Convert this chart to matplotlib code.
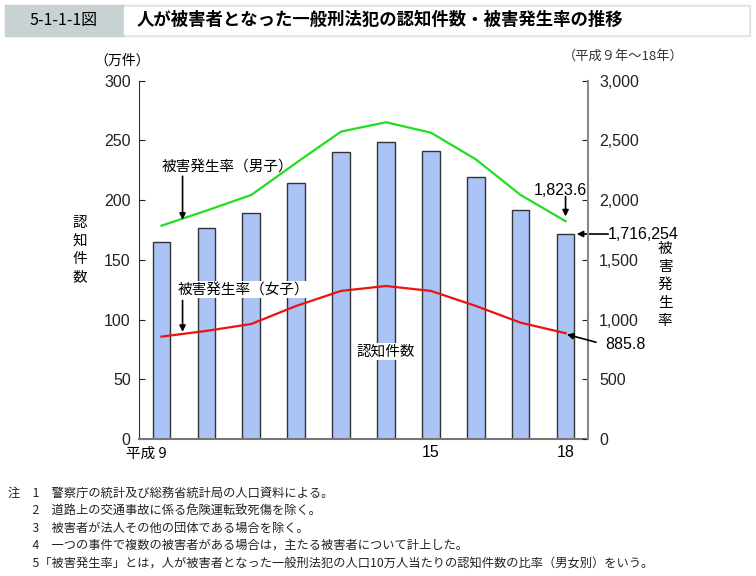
import numpy as np
import matplotlib.pyplot as plt
from matplotlib.patches import Rectangle

plt.rcParams['font.family'] = ['Noto Sans CJK JP', 'DejaVu Sans']
num_font = ['Liberation Sans', 'Noto Sans CJK JP']

# data (平成9年～18年)
years = [9, 10, 11, 12, 13, 14, 15, 16, 17, 18]
tick_labels = {15: '15', 18: '18'}
cases = [165.2, 177.0, 189.0, 214.1, 240.6, 248.5, 241.0, 219.4, 192.0, 171.6254]  # 万件
rate_male = [1786, 1912, 2043, 2312, 2574, 2652, 2565, 2342, 2043, 1823.6]
rate_female = [857, 905, 963, 1114, 1240, 1281, 1240, 1114, 974, 885.8]

notes = [
    '注　1　警察庁の統計及び総務省統計局の人口資料による。',
    '　　2　道路上の交通事故に係る危険運転致死傷を除く。',
    '　　3　被害者が法人その他の団体である場合を除く。',
    '　　4　一つの事件で複数の被害者がある場合は，主たる被害者について計上した。',
    '　　5「被害発生率」とは，人が被害者となった一般刑法犯の人口10万人当たりの認知件数の比率（男女別）をいう。',
]

fig = plt.figure(figsize=(7.56, 5.76), dpi=100)

# title bar
fig.patches.append(Rectangle((5 / 756, 1 - 36 / 576), 745 / 756, 31 / 576,
                             transform=fig.transFigure, color='#dfe5e5', zorder=0))
fig.patches.append(Rectangle((5 / 756, 1 - 36 / 576), 119 / 756, 31 / 576,
                             transform=fig.transFigure, color='#c9d2d2', zorder=1))
fig.patches.append(Rectangle((124 / 756, 1 - 34 / 576), 624 / 756, 27 / 576,
                             transform=fig.transFigure, color='white', zorder=1))
fig.text(64 / 756, 1 - 20 / 576, '5-1-1-1図', fontsize=11.5, ha='center', va='center',
         family=['Liberation Sans Narrow', 'Noto Sans CJK JP'])
fig.text(137 / 756, 1 - 20 / 576, '人が被害者となった一般刑法犯の認知件数・被害発生率の推移',
         fontsize=12.5, ha='left', va='center', fontweight='bold')

ax = fig.add_axes([139 / 756, 1 - 439 / 576, 449 / 756, 358.3 / 576])
x = np.arange(len(years))
ax.bar(x, cases, width=0.39, color='#aac4f6', edgecolor='#333333', linewidth=1.0, zorder=2)
ax.set_xlim(-0.5, 9.5)
ax.set_ylim(0, 300)
ax.set_yticks(range(0, 301, 50))
ax.tick_params(axis='y', direction='in', length=4, labelsize=11.5, colors='#222222', pad=6)
for lab in ax.get_yticklabels():
    lab.set_family(num_font)
ax.set_xticks([years.index(k) for k in tick_labels])
ax.set_xticklabels(list(tick_labels.values()), fontsize=11.5, family=num_font)
ax.tick_params(axis='x', length=0, pad=4)
ax.text(0.12, -6.5, '平成 9', fontsize=10.5, ha='right', va='top')
for s in ['top', 'right']:
    ax.spines[s].set_visible(False)
ax.spines['left'].set_color('#333333')
ax.spines['bottom'].set_color('#777777')
ax.spines['bottom'].set_linewidth(1.5)

ax2 = ax.twinx()
ax2.plot(x, rate_male, color='#22dd22', linewidth=1.6, zorder=3)
ax2.plot(x, rate_female, color='#ee1111', linewidth=1.6, zorder=3)
ax2.set_ylim(0, 3000)
ax2.set_xlim(-0.5, 9.5)
ax2.set_yticks(range(0, 3001, 500))
ax2.set_yticklabels([f'{v:,}' for v in range(0, 3001, 500)], family=num_font)
ax2.tick_params(axis='y', direction='in', length=4, labelsize=11.5, colors='#222222', pad=8)
for s in ['top', 'left', 'bottom']:
    ax2.spines[s].set_visible(False)
ax2.spines['right'].set_color('#888888')
ax2.spines['right'].set_linewidth(1.5)

# axis titles
fig.text(80 / 756, 1 - 250 / 576, '認\n知\n件\n数', fontsize=10.5, ha='center', va='center',
         linespacing=1.35)
fig.text(122 / 756, 1 - 61 / 576, '（万件）', fontsize=10, ha='center', va='center')
fig.text(665 / 756, 1 - 285 / 576, '被\n害\n発\n生\n率', fontsize=10.5, ha='center', va='center',
         linespacing=1.35)
fig.text(623 / 756, 1 - 56 / 576, '（平成９年～18年）', fontsize=9.5, ha='center', va='center',
         color='#333333')

# annotations
arrow = dict(arrowstyle='-|>', color='black', lw=1.2, mutation_scale=9, shrinkA=0, shrinkB=0)
ax2.annotate('', xy=(0.47, rate_male[0] + 50), xytext=(0.47, 2200), arrowprops=arrow)
ax2.text(0.0, 2280, '被害発生率（男子）', fontsize=10.5, ha='left', va='center')
ax2.annotate('', xy=(0.47, rate_female[0] + 40), xytext=(0.47, 1160), arrowprops=arrow)
ax2.text(0.35, 1250, '被害発生率（女子）', fontsize=10.5, ha='left', va='center',
         bbox=dict(facecolor='white', edgecolor='none', pad=1))
ax.text(5.0, 73, '認知件数', fontsize=10.5, ha='center', va='center',
        bbox=dict(facecolor='white', edgecolor='none', pad=1))
ax2.annotate('', xy=(9.0, rate_male[-1] + 40), xytext=(9.0, 2030), arrowprops=arrow)
ax2.text(8.88, 2080, f'{rate_male[-1]:,}', fontsize=11.5, ha='center', va='center',
         family=num_font)
ax.annotate('', xy=(9.25, cases[-1]), xytext=(9.95, cases[-1]), arrowprops=arrow,
            annotation_clip=False)
ax.text(9.95, cases[-1], f'{round(cases[-1] * 10000):,}', fontsize=11.5, ha='left',
        va='center', family=num_font)
ax2.annotate('', xy=(9.03, rate_female[-1] - 10), xytext=(9.68, 810), arrowprops=arrow,
             annotation_clip=False)
ax2.text(9.88, 790, f'{rate_female[-1]:,}', fontsize=11.5, ha='left', va='center',
         family=num_font)

# notes
for i, line in enumerate(notes):
    fig.text(8 / 756, 1 - (493 + i * 17.5) / 576, line, fontsize=8.8, ha='left', va='center',
             color='#222222')

fig.savefig('out.png', dpi=100)
